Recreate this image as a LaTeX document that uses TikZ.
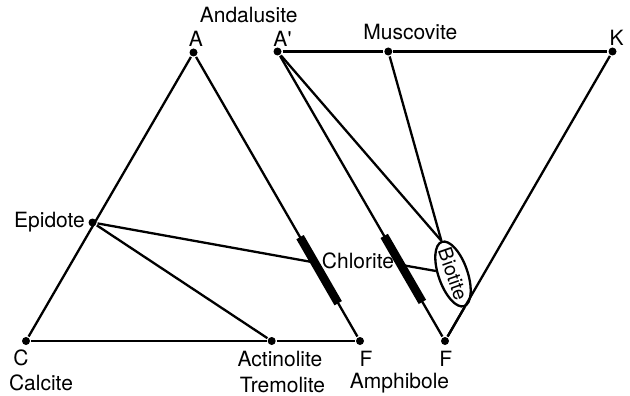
\documentclass[tikz,border=0pt]{standalone}
\usepackage{fontspec}
\setmainfont{TeX Gyre Heros}
\usetikzlibrary{shapes.geometric,calc}
\begin{document}
\begin{tikzpicture}[x=1pt,y=-1pt,line width=2.3pt,line join=round,
  dot/.style={circle,fill,inner sep=0,minimum size=8pt},
  lbl/.style={font=\fontsize{21}{24}\selectfont,inner sep=0,anchor=base},
  barline/.style={line width=8.5pt}]
\useasboundingbox (0,0) rectangle (630,396);
% left triangle
\node[dot] (A) at (193.5,52.5) {};
\node[dot] (C) at (26,341) {};
\node[dot] (F) at (360,341) {};
\node[dot] (E) at (92.5,222.5) {};
\node[dot] (T) at (271.7,341) {};
\draw (A) -- (C);
\draw (C) -- (T);
\draw (T) -- (F);
\draw (F) -- (A);
\coordinate (P1) at ($(A)!0.728!(F)$);
\draw (E) -- (P1);
\draw (E) -- (T);
\coordinate (B1a) at ($(A)!0.64!(F)$);
\coordinate (B1b) at ($(A)!0.869!(F)$);
\draw[barline] (B1a) -- (B1b);
% right triangle
\node[dot] (A2) at (277.5,51.5) {};
\node[dot] (M) at (388.3,51.5) {};
\node[dot] (K) at (612.5,51.5) {};
\node[dot] (F2) at (445,341) {};
\node[draw,fill=white,ellipse,rotate=-70.7,minimum width=68pt,minimum height=29pt,inner sep=0,
  font=\fontsize{19.5}{22}\selectfont] (bio) at (453,274) {\makebox[0pt]{Biotite}};
\draw (A2) -- (M);
\draw (M) -- (K);
\draw (K) -- (F2);
\draw (F2) -- (A2);
\draw (A2) -- (bio.west);
\draw (M) -- (bio.west);
\draw (bio.east) -- (F2);
\coordinate (P2) at ($(A2)!0.737!(F2)$);
\draw (P2) -- (bio);
\coordinate (B2a) at ($(A2)!0.637!(F2)$);
\coordinate (B2b) at ($(A2)!0.865!(F2)$);
\draw[barline] (B2a) -- (B2b);
% labels
\node[lbl] (lAnd) at (248.7,23) {Andalusite};
\node[lbl] (lA) at (196,46.7) {A};
\node[lbl] (lA2) at (282.5,46.7) {A\textquotesingle};
\node[lbl] (lM) at (410.3,40) {Muscovite};
\node[lbl] (lK) at (616.5,46) {K};
\node[lbl,anchor=base east] (lE) at (86,227) {Epidote};
\node[lbl] (lCh) at (358,268) {Chlorite};
\node[lbl] (lC) at (21,365) {C};
\node[lbl] (lCa) at (41,390) {Calcite};
\node[lbl] (lAc) at (280,366) {Actinolite};
\node[lbl] (lTr) at (282.5,392) {Tremolite};
\node[lbl] (lF) at (366,366) {F};
\node[lbl] (lAm) at (399.5,388) {Amphibole};
\node[lbl] (lF2) at (445.7,366) {F};
\end{tikzpicture}
\end{document}
